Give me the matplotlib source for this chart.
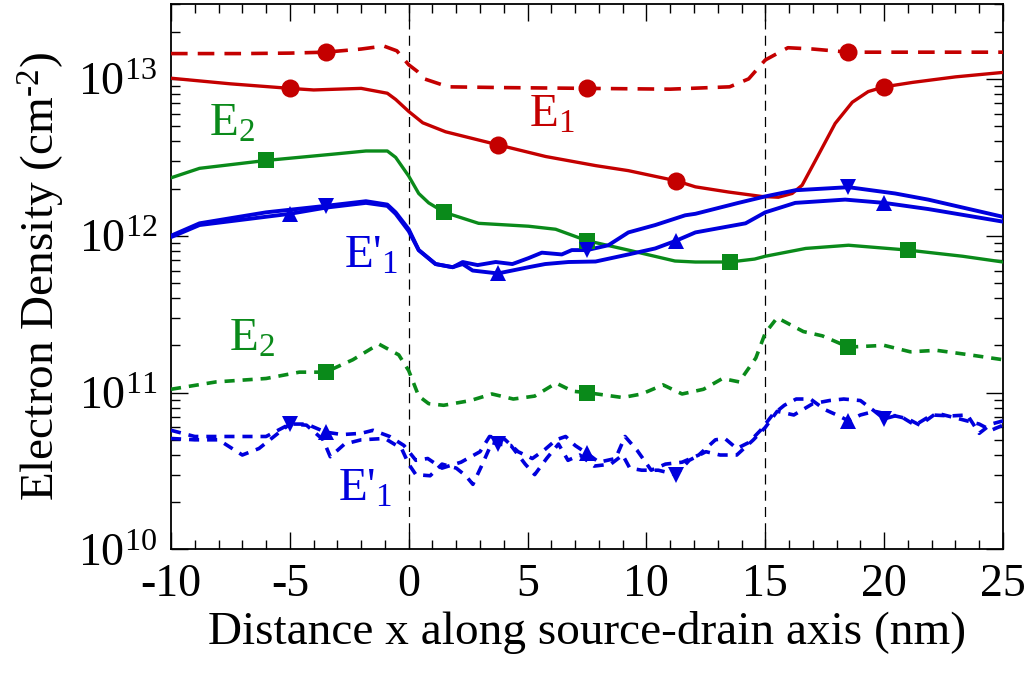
import numpy as np
import matplotlib
matplotlib.use("Agg")
import matplotlib.pyplot as plt
from matplotlib.ticker import LogLocator, LogFormatterMathtext, MultipleLocator, NullFormatter

plt.rcParams['font.family'] = ['Liberation Serif', 'DejaVu Serif']
plt.rcParams['mathtext.fontset'] = 'custom'
plt.rcParams['mathtext.rm'] = 'Liberation Serif'
plt.rcParams['mathtext.it'] = 'Liberation Serif:italic'
plt.rcParams['mathtext.bf'] = 'Liberation Serif:bold'
plt.rcParams['axes.unicode_minus'] = False

# ---------------- data (electron density, cm^-2) ----------------
# E1, solid (red, circles)
e1_solid_x = [-10, -7.5, -5, -4, -2, -0.9, -0.55, 0, 0.59, 1.55, 3.75, 5.76, 7.86, 9.24,
              11.25, 12.06, 13.45, 14.85, 15.55, 16.13, 16.55, 17.1, 17.94, 18.66, 19.33,
              20.0, 21.2, 23, 25]
e1_solid_y = [1.01e13, 9.3e12, 8.7e12, 8.5e12, 8.7e12, 8.1e12, 7.4e12, 6.2e12, 5.25e12,
              4.6e12, 3.8e12, 3.2e12, 2.8e12, 2.6e12, 2.24e12, 2.05e12, 1.9e12, 1.78e12,
              1.76e12, 1.86e12, 2.1e12, 3.0e12, 5.2e12, 7.1e12, 8.3e12, 8.9e12, 9.5e12,
              1.03e13, 1.10e13]
e1_solid_marks = [-5, 3.75, 11.25, 20.0]

# E1, dashed (red, circles)
e1_dash_x = [-10, -7, -5, -3.5, -2, -1.05, -0.5, 0, 0.35, 0.66, 1.66, 4, 7.5, 11, 13.5,
             14.3, 15.0, 15.95, 17, 18.5, 25]
e1_dash_y = [1.45e13, 1.45e13, 1.46e13, 1.48e13, 1.55e13, 1.62e13, 1.51e13, 1.23e13, 1.12e13,
             1.0e13, 8.9e12, 8.8e12, 8.7e12, 8.6e12, 8.9e12, 1.0e13, 1.32e13, 1.58e13,
             1.55e13, 1.48e13, 1.48e13]
e1_dash_marks = [-3.5, 7.5, 18.5]

# E2, solid (green, squares)
e2_solid_x = [-10, -8.8, -6, -3.2, -1.8, -0.9, -0.55, 0, 0.42, 0.84, 1.5, 2.94, 5.04, 6.18,
              7.5, 9.24, 11.2, 12.06, 13.5, 14.55, 15.0, 16.7, 18.5, 21.0, 23.3, 25]
e2_solid_y = [2.34e12, 2.69e12, 3.02e12, 3.31e12, 3.47e12, 3.47e12, 3.16e12, 2.4e12, 1.86e12,
              1.62e12, 1.41e12, 1.20e12, 1.15e12, 1.10e12, 9.3e11, 8.1e11, 6.9e11, 6.8e11,
              6.8e11, 7.1e11, 7.4e11, 8.3e11, 8.7e11, 8.1e11, 7.4e11, 6.8e11]
e2_solid_marks = [-6, 1.5, 7.5, 13.5, 21.0]

# E2, dashed (green, squares)
e2_dash_x = [-10, -8.1, -6.0, -4.6, -3.5, -2.35, -1.26, -0.42, 0, 0.42, 0.84, 1.47, 2.6,
             3.5, 4.4, 5.3, 6.2, 6.9, 7.5, 9.0, 9.8, 10.7, 11.5, 12.4, 13.2, 13.9, 14.6,
             15.0, 15.5, 16.6, 17.4, 18.5, 20.0, 21.1, 22.2, 23.6, 25]
e2_dash_y = [1.05e11, 1.17e11, 1.23e11, 1.35e11, 1.35e11, 1.62e11, 2.04e11, 1.74e11, 1.38e11,
             9.5e10, 8.5e10, 8.3e10, 8.9e10, 9.8e10, 9.1e10, 9.5e10, 1.15e11, 1.02e11,
             1.0e11, 9.3e10, 9.8e10, 1.12e11, 9.8e10, 1.05e11, 1.23e11, 1.17e11, 1.66e11,
             2.4e11, 3.0e11, 2.45e11, 2.3e11, 1.95e11, 2.0e11, 1.82e11, 1.86e11, 1.74e11,
             1.62e11]
e2_dash_marks = [-3.5, 7.5, 18.5]

# E'1, solid, down-triangle branch (blue)
ep1_solid_dn_x = [-10, -8.8, -6, -3.5, -1.8, -0.9, -0.55, 0, 0.42, 1.13, 1.85, 2.27, 2.9,
                  3.66, 4.36, 5.04, 5.6, 6.44, 6.86, 7.5, 8.4, 9.24, 10.37, 11.63, 12.06,
                  13.87, 14.99, 16.26, 18.5, 20.46, 21.85, 25]
ep1_solid_dn_y = [1.0e12, 1.2e12, 1.41e12, 1.55e12, 1.66e12, 1.58e12, 1.41e12, 1.10e12,
                  8.1e11, 6.6e11, 6.3e11, 6.8e11, 6.5e11, 6.8e11, 6.6e11, 7.2e11, 7.8e11,
                  7.6e11, 8.1e11, 8.1e11, 8.7e11, 1.05e12, 1.17e12, 1.35e12, 1.38e12,
                  1.62e12, 1.78e12, 1.95e12, 2.04e12, 1.86e12, 1.70e12, 1.32e12]
ep1_solid_dn_marks = [-3.5, 7.5, 18.5]

# E'1, solid, up-triangle branch (blue)
ep1_solid_up_x = [-10, -8.8, -5, -3.5, -1.8, -0.9, -0.55, 0, 0.42, 1.13, 1.85, 2.27, 2.69,
                  3.75, 5.04, 5.74, 6.72, 7.86, 9.24, 10.37, 11.25, 12.06, 14.17, 15.0,
                  16.26, 18.36, 20.0, 21.85, 25]
ep1_solid_up_y = [9.8e11, 1.17e12, 1.38e12, 1.51e12, 1.62e12, 1.55e12, 1.38e12, 1.07e12,
                  8.1e11, 6.6e11, 6.3e11, 6.6e11, 6.0e11, 5.75e11, 6.3e11, 6.6e11, 6.8e11,
                  6.85e11, 7.6e11, 8.3e11, 9.3e11, 1.05e12, 1.20e12, 1.41e12, 1.62e12,
                  1.70e12, 1.62e12, 1.48e12, 1.23e12]
ep1_solid_up_marks = [-5, 3.75, 11.25, 20.0]

# E'1, dashed, up-triangle branch (blue)
ep1_dash_up_x = [-10, -9, -8, -7, -6, -5.5, -5, -4.3, -3.5, -2.8, -2, -1.5, -0.8, -0.2, 0.3,
                 0.8, 1.4, 2.2, 3.0, 3.4, 4.0, 4.6, 5.2, 5.7, 6.2, 6.6, 7.0, 7.5, 8.0, 8.7,
                 9.1, 9.6, 10.2, 10.8, 11.5, 12.2, 12.9, 13.3, 13.8, 14.3, 14.8, 15.3, 15.8,
                 16.3, 16.9, 17.5, 18.1, 18.5, 19.0, 19.6, 20.3, 21.0, 21.5, 22.2, 23.0, 24.0,
                 24.5, 25]
ep1_dash_up_y = [5.75e10, 5.25e10, 5.25e10, 5.25e10, 5.25e10, 5.75e10, 6.3e10, 6.3e10, 5.6e10,
                 5.4e10, 5.5e10, 5.75e10, 5.25e10, 4.6e10, 3.7e10, 3.8e10, 3.3e10, 3.6e10,
                 4.2e10, 5.25e10, 5.1e10, 4.2e10, 3.8e10, 4.3e10, 5.0e10, 5.25e10, 4.6e10,
                 4.1e10, 3.6e10, 3.8e10, 5.25e10, 4.3e10, 3.2e10, 3.5e10, 3.6e10, 4.0e10,
                 5.0e10, 5.1e10, 4.4e10, 4.8e10, 5.75e10, 7.2e10, 8.3e10, 9.1e10, 9.1e10,
                 7.8e10, 7.1e10, 6.6e10, 7.2e10, 7.6e10, 7.2e10, 6.8e10, 6.2e10, 7.4e10,
                 6.9e10, 6.3e10, 5.75e10, 6.2e10]
ep1_dash_up_marks = [-3.5, 7.5, 18.5]

# E'1, dashed, down-triangle branch (blue)
ep1_dash_dn_x = [-10, -9, -8, -7, -6.3, -5.5, -5, -4.3, -3.6, -3.3, -2.7, -2, -1, -0.3, 0,
                 0.3, 0.9, 1.4, 2.0, 2.4, 2.7, 3.1, 3.5, 3.75, 4.3, 4.9, 5.3, 5.8, 6.3, 6.7,
                 7.2, 7.8, 8.5, 9.0, 9.3, 9.8, 10.5, 11.25, 11.8, 12.5, 13.1, 13.8, 14.5,
                 15.0, 15.5, 16.2, 17.0, 17.7, 18.3, 19.0, 19.6, 20.0, 20.6, 21.3, 22.0,
                 22.8, 23.5, 24.0, 24.5, 25]
ep1_dash_dn_y = [5.1e10, 5.0e10, 5.0e10, 4.0e10, 4.4e10, 5.5e10, 6.3e10, 6.2e10, 5.0e10,
                 3.9e10, 4.7e10, 5.0e10, 5.1e10, 4.4e10, 3.5e10, 3.0e10, 2.95e10, 3.5e10,
                 3.3e10, 2.95e10, 2.6e10, 3.5e10, 4.8e10, 4.7e10, 4.6e10, 3.5e10, 3.0e10,
                 3.8e10, 4.7e10, 3.7e10, 4.0e10, 3.4e10, 3.5e10, 4.0e10, 3.3e10, 3.2e10,
                 3.2e10, 3.0e10, 3.7e10, 4.2e10, 4.0e10, 4.0e10, 5.0e10, 6.0e10, 7.6e10,
                 7.2e10, 8.5e10, 8.9e10, 9.1e10, 8.9e10, 7.6e10, 6.8e10, 7.2e10, 6.2e10,
                 7.2e10, 7.1e10, 7.2e10, 5.5e10, 6.3e10, 6.6e10]
ep1_dash_dn_marks = [-5, 3.75, 11.25, 20.0]

region_edges = [0, 15]
x_ticks = [-10, -5, 0, 5, 10, 15, 20, 25]

RED = '#c40000'
GREEN = '#0a8a1a'
BLUE = '#0000dd'

fig = plt.figure(figsize=(10.24, 6.75), dpi=100)
ax = fig.add_axes([0.167, 0.186, 0.8125, 0.808])
ax.set_yscale('log')


def draw(xs, ys, marks, color, marker, ms, dashes=None, lw=2.4):
    xs = np.asarray(xs, float)
    ys = np.asarray(ys, float)
    if dashes is None:
        ax.plot(xs, ys, color=color, lw=lw, solid_capstyle='round', solid_joinstyle='round', zorder=3)
    else:
        ax.plot(xs, ys, color=color, lw=lw, dashes=dashes, dash_capstyle='butt', zorder=3)
    sel = np.isin(xs, np.asarray(marks, float))
    ax.plot(xs[sel], ys[sel], ls='none', marker=marker, ms=ms, color=color,
            markeredgewidth=0, zorder=4)


for xe in region_edges:
    ax.axvline(xe, color='black', lw=0.9, dashes=(8, 5), zorder=2)

draw(e1_dash_x, e1_dash_y, e1_dash_marks, RED, 'o', 13, dashes=(4.6, 2.8), lw=2.6)
draw(e1_solid_x, e1_solid_y, e1_solid_marks, RED, 'o', 13)
draw(e2_solid_x, e2_solid_y, e2_solid_marks, GREEN, 's', 12)
draw(e2_dash_x, e2_dash_y, e2_dash_marks, GREEN, 's', 12, dashes=(2.8, 2.2), lw=2.6)
draw(ep1_solid_dn_x, ep1_solid_dn_y, ep1_solid_dn_marks, BLUE, 'v', 12, lw=2.8)
draw(ep1_solid_up_x, ep1_solid_up_y, ep1_solid_up_marks, BLUE, '^', 12, lw=2.8)
draw(ep1_dash_up_x, ep1_dash_up_y, ep1_dash_up_marks, BLUE, '^', 12, dashes=(2.8, 2.2), lw=2.6)
draw(ep1_dash_dn_x, ep1_dash_dn_y, ep1_dash_dn_marks, BLUE, 'v', 12, dashes=(2.8, 2.2), lw=2.6)

ax.set_xlim(-10, 25)
ax.set_ylim(1e10, 3e13)

ax.xaxis.set_major_locator(plt.FixedLocator(x_ticks))
ax.xaxis.set_minor_locator(MultipleLocator(1))
ax.yaxis.set_major_locator(LogLocator(base=10, numticks=10))
ax.yaxis.set_minor_locator(LogLocator(base=10, subs=np.arange(2, 10), numticks=20))
ax.yaxis.set_major_formatter(LogFormatterMathtext())
ax.yaxis.set_minor_formatter(NullFormatter())
ax.xaxis.set_major_formatter(plt.FuncFormatter(lambda v, p: f"{int(v)}"))

ax.tick_params(which='both', direction='in', top=True, right=True, labelsize=33, width=1.0)
ax.tick_params(which='major', length=12, pad=10)
ax.tick_params(which='minor', length=6.5)
for s in ax.spines.values():
    s.set_linewidth(1.3)

ax.set_xlabel('Distance x along source-drain axis (nm)', fontsize=34, labelpad=4)
ax.set_ylabel(r'Electron Density (cm$^{\text{-}2}$)', fontsize=34, labelpad=8)

ax.text(5.07, 10**12.77, 'E$_1$', color=RED, fontsize=34, va='center', ha='left')
ax.text(-8.4, 10**12.71, 'E$_2$', color=GREEN, fontsize=34, va='center', ha='left')
ax.text(-2.73, 10**11.87, "E'$_1$", color=BLUE, fontsize=34, va='center', ha='left')
ax.text(-7.56, 10**11.34, 'E$_2$', color=GREEN, fontsize=34, va='center', ha='left')
ax.text(-2.98, 10**10.38, "E'$_1$", color=BLUE, fontsize=34, va='center', ha='left')

fig.savefig('out.png', dpi=100)
